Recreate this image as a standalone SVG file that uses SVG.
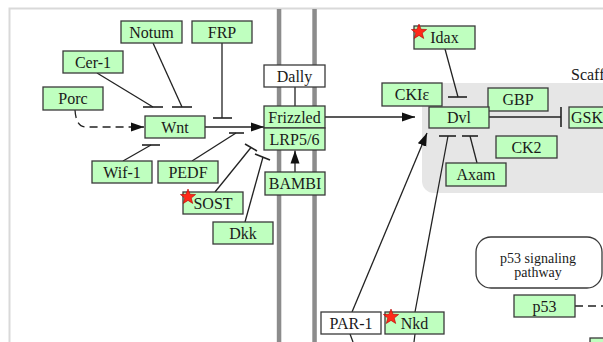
<svg xmlns="http://www.w3.org/2000/svg" xmlns:xlink="http://www.w3.org/1999/xlink" width="603" height="342" viewBox="0 0 603 342">
  <style>
    .gene { fill: #bfffbf; stroke: #3a3a3a; stroke-width: 1.3; }
    .cmpd { fill: #ffffff; stroke: #3a3a3a; stroke-width: 1.3; }
    .lbl { font-family: 'Liberation Serif', 'DejaVu Serif', serif; font-size: 16px; fill: #1a1a1a; text-anchor: middle; }
    .small { font-size: 14px; }
    .edge { fill: none; stroke: #222; stroke-width: 1.3; }
    .dash { stroke-dasharray: 8 5; }
    .bar { stroke: #222; stroke-width: 1.6; }
    .membrane { fill: #8c8c8c; }
    .star { fill: #ff2a1a; stroke: #b00000; stroke-width: 0.6; }
  </style>
  <defs>
    <marker id="arrow" markerUnits="userSpaceOnUse" markerWidth="14" markerHeight="10" refX="13" refY="5" orient="auto">
      <path d="M0,0.5 L13,5 L0,9.5 Z" fill="#111"/>
    </marker>
    <path id="star" class="star" d="M0,-8 L2,-2.75 L7.61,-2.47 L3.23,1.05 L4.7,6.47 L0,3.4 L-4.7,6.47 L-3.23,1.05 L-7.61,-2.47 L-2,-2.75 Z"/>
  </defs>

  <rect width="603" height="342" fill="#ffffff"/>
  <!-- map frame -->
  <path d="M9.5,342 L9.5,8.5 L603,8.5" fill="none" stroke="#d9d9d9" stroke-width="2"/>

  <!-- scaffold compartment -->
  <rect x="422" y="83" width="200" height="110" rx="12" fill="#e6e6e6"/>
  <text x="571" y="80" class="lbl" style="text-anchor:start">Scaff</text>

  <!-- cell membrane -->
  <rect class="membrane" x="276.8" y="9" width="4.5" height="333"/>
  <rect class="membrane" x="312.3" y="9" width="4.5" height="333"/>

  <g id="connectors">
    <!-- Cer-1 -| Wnt -->
    <line class="edge" x1="97" y1="73" x2="153" y2="107"/>
    <line class="bar" x1="143" y1="107" x2="163" y2="107"/>
    <!-- Notum -| Wnt -->
    <line class="edge" x1="153" y1="43" x2="182" y2="107"/>
    <line class="bar" x1="172" y1="107" x2="192" y2="107"/>
    <!-- FRP -| Frizzled -->
    <line class="edge" x1="222" y1="43" x2="222" y2="118"/>
    <line class="bar" x1="213" y1="118" x2="232" y2="118"/>
    <!-- Porc - -> Wnt -->
    <path class="edge dash" d="M75,110 Q76,127 86,127 L144,127" marker-end="url(#arrow)"/>
    <!-- Wnt -> Frizzled -->
    <line class="edge" x1="205" y1="127" x2="264" y2="127" marker-end="url(#arrow)"/>
    <!-- Wif-1 -| Wnt -->
    <line class="edge" x1="123" y1="161" x2="151" y2="145"/>
    <line class="bar" x1="142" y1="145" x2="160" y2="145"/>
    <!-- PEDF -| LRP5/6 -->
    <line class="edge" x1="192" y1="161" x2="236" y2="133"/>
    <line class="bar" x1="229" y1="133" x2="244" y2="133"/>
    <!-- SOST -| LRP5/6 -->
    <line class="edge" x1="215" y1="192" x2="251" y2="147.5"/>
    <line class="bar" x1="245" y1="144" x2="257" y2="151"/>
    <!-- Dkk -| LRP5/6 -->
    <line class="edge" x1="245" y1="222" x2="263" y2="157"/>
    <line class="bar" x1="255" y1="154" x2="270" y2="160"/>
    <!-- Dally - Frizzled -->
    <line class="edge" x1="295" y1="87" x2="295" y2="106"/>
    <!-- BAMBI -> LRP5/6 -->
    <line class="edge" x1="295" y1="172" x2="295" y2="150.5" marker-end="url(#arrow)"/>
    <!-- Frizzled -> Dvl -->
    <line class="edge" x1="325" y1="117" x2="415" y2="117" marker-end="url(#arrow)"/>
    <!-- Idax -| Dvl -->
    <line class="edge" x1="445" y1="49" x2="458" y2="97"/>
    <line class="bar" x1="448" y1="97" x2="467" y2="97"/>
    <!-- Dvl -| GSK -->
    <line class="edge" x1="489" y1="117" x2="561" y2="117"/>
    <line class="bar" x1="561" y1="107" x2="561" y2="127"/>
    <!-- Axam -| Dvl -->
    <line class="edge" x1="477" y1="163" x2="470" y2="136"/>
    <line class="bar" x1="462" y1="136" x2="478" y2="136"/>
    <!-- Nkd -| Dvl -->
    <line class="edge" x1="415" y1="312" x2="448" y2="136"/>
    <line class="bar" x1="439" y1="136" x2="456" y2="136"/>
    <!-- PAR-1 -> Dvl -->
    <line class="edge" x1="352" y1="312" x2="427" y2="133" marker-end="url(#arrow)"/>
    <!-- continuations below -->
    <line class="edge" x1="350" y1="334" x2="353" y2="342"/>
    <line class="edge" x1="415" y1="334" x2="414" y2="342"/>
    <!-- p53 - - -->
    <line class="edge dash" x1="575" y1="306" x2="603" y2="306"/>
  </g>

  <g id="node-notum"><rect class="gene" x="121" y="21" width="61" height="22"/><text class="lbl" x="151.5" y="37.5">Notum</text></g>
  <g id="node-frp"><rect class="gene" x="192" y="21" width="60" height="22"/><text class="lbl" x="222" y="37.5">FRP</text></g>
  <g id="node-cer1"><rect class="gene" x="63" y="51" width="60" height="22"/><text class="lbl" x="93" y="67.5">Cer-1</text></g>
  <g id="node-porc"><rect class="gene" x="43" y="87" width="60" height="23"/><text class="lbl" x="73" y="104">Porc</text></g>
  <g id="node-wnt"><rect class="gene" x="145" y="116" width="60" height="22"/><text class="lbl" x="175" y="132.5">Wnt</text></g>
  <g id="node-wif1"><rect class="gene" x="92" y="161" width="60" height="22"/><text class="lbl" x="122" y="177.5">Wif-1</text></g>
  <g id="node-pedf"><rect class="gene" x="158" y="161" width="60" height="22"/><text class="lbl" x="188" y="177.5">PEDF</text></g>
  <g id="node-sost"><rect class="gene" x="183" y="192" width="60" height="22"/><text class="lbl" x="213" y="208.5">SOST</text><use xlink:href="#star" transform="translate(188,197)"/></g>
  <g id="node-dkk"><rect class="gene" x="213" y="222" width="60" height="22"/><text class="lbl" x="243" y="238.5">Dkk</text></g>
  <g id="node-dally"><rect class="cmpd" x="264" y="65" width="61" height="22"/><text class="lbl" x="294.5" y="81.5">Dally</text></g>
  <g id="node-frizzled"><rect class="gene" x="264" y="106" width="61" height="22"/><text class="lbl" x="294.5" y="122.5">Frizzled</text></g>
  <g id="node-lrp56"><rect class="gene" x="264" y="128" width="61" height="22"/><text class="lbl" x="294.5" y="144.5">LRP5/6</text></g>
  <g id="node-bambi"><rect class="gene" x="265" y="172" width="60" height="23"/><text class="lbl" x="295" y="189">BAMBI</text></g>
  <g id="node-idax"><rect class="gene" x="414" y="26" width="61" height="23"/><text class="lbl" x="444.5" y="43">Idax</text><use xlink:href="#star" transform="translate(419,32)"/></g>
  <g id="node-ckie"><rect class="gene" x="382" y="83" width="60" height="23"/><text class="lbl" x="412" y="100">CKIε</text></g>
  <g id="node-gbp"><rect class="gene" x="488" y="88" width="60" height="23"/><text class="lbl" x="518" y="105">GBP</text></g>
  <g id="node-dvl"><rect class="gene" x="429" y="107" width="60" height="21"/><text class="lbl" x="459" y="123">Dvl</text></g>
  <g id="node-gsk"><rect class="gene" x="569" y="107" width="50" height="21"/><text class="lbl" x="571" y="123" style="text-anchor:start">GSK</text></g>
  <g id="node-ck2"><rect class="gene" x="496" y="136" width="61" height="22"/><text class="lbl" x="526.5" y="152.5">CK2</text></g>
  <g id="node-axam"><rect class="gene" x="446" y="163" width="60" height="23"/><text class="lbl" x="476" y="180">Axam</text></g>
  <g id="node-par1"><rect class="cmpd" x="321" y="312" width="60" height="22"/><text class="lbl" x="351" y="328.5">PAR-1</text></g>
  <g id="node-nkd"><rect class="gene" x="385" y="312" width="59" height="22"/><text class="lbl" x="414.5" y="328.5">Nkd</text><use xlink:href="#star" transform="translate(391,317)"/></g>
  <g id="node-p53-pathway"><rect x="476" y="237" width="126" height="51" rx="15" fill="#ffffff" stroke="#3a3a3a" stroke-width="1.3"/><text class="lbl small" x="538" y="263">p53 signaling</text><text class="lbl small" x="538" y="277">pathway</text></g>
  <g id="node-p53"><rect class="gene" x="514" y="295" width="61" height="22"/><text class="lbl" x="544.5" y="311.5">p53</text></g>
  <g id="node-offmap"><rect class="gene" x="590" y="338" width="30" height="20"/></g>
</svg>
